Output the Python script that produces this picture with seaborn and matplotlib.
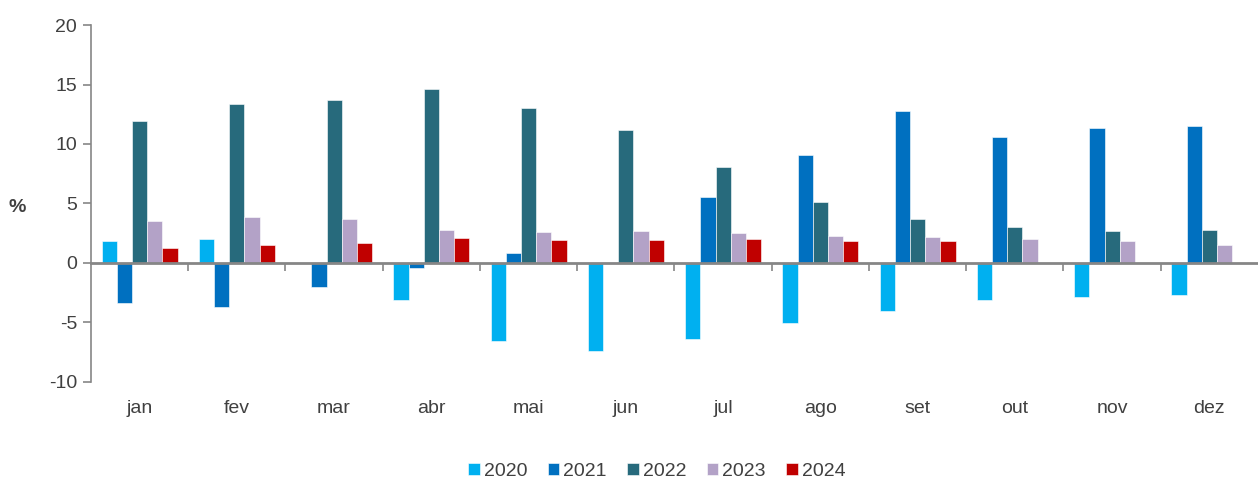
import numpy as np
import pandas as pd
import seaborn as sns
import matplotlib.pyplot as plt
import matplotlib.transforms as mtransforms

sns.set_theme(style="white")
plt.rcParams['font.family'] = ['Liberation Sans', 'DejaVu Sans']
plt.rcParams['axes.unicode_minus'] = False

MONTHS = ['jan', 'fev', 'mar', 'abr', 'mai', 'jun', 'jul', 'ago', 'set', 'out', 'nov', 'dez']
YEARS = ['2020', '2021', '2022', '2023', '2024']
COLORS = ['#00B0F0', '#0070C0', '#276A7C', '#B3A2C7', '#C00000']

# monthly values (%), NaN = no bar
V2020 = [1.8, 2.0, np.nan, -3.1, -6.6, -7.4, -6.4, -5.05, -4.05, -3.1, -2.85, -2.7]
V2021 = [-3.35, -3.7, -2.0, -0.4, 0.85, np.nan, 5.55, 9.1, 12.8, 10.55, 11.35, 11.5]
V2022 = [11.95, 13.35, 13.7, 14.6, 13.0, 11.2, 8.05, 5.1, 3.65, 3.05, 2.7, 2.8]
V2023 = [3.55, 3.85, 3.7, 2.75, 2.6, 2.7, 2.5, 2.3, 2.15, 2.0, 1.85, 1.5]
V2024 = [1.25, 1.5, 1.65, 2.05, 1.95, 1.95, 2.0, 1.8, 1.8, np.nan, np.nan, np.nan]

TEXT_COLOR = '#404040'
AXIS_COLOR = '#868686'


def build_frame() -> pd.DataFrame:
    series = [V2020, V2021, V2022, V2023, V2024]
    rows = []
    for year, values in zip(YEARS, series):
        for month, v in zip(MONTHS, values):
            rows.append({'month': month, 'year': year, 'value': v})
    return pd.DataFrame(rows).dropna()


def plot_chart(df: pd.DataFrame):
    fig = plt.figure(figsize=(12.58, 4.82), dpi=100)
    ax = fig.add_axes([0.0723, 0.208, 0.9277, 0.740])

    sns.barplot(data=df, x='month', y='value', hue='year', order=MONTHS,
                hue_order=YEARS, palette=COLORS, saturation=1, width=0.78, gap=0,
                edgecolor='white', linewidth=0.4, ax=ax)

    ax.set_ylim(-10, 20)
    ax.set_xlim(-0.5, len(MONTHS) - 0.5)
    ax.set_yticks(range(-10, 21, 5))
    ax.tick_params(axis='y', length=6, width=1.2, color=AXIS_COLOR,
                   labelsize=14, labelcolor=TEXT_COLOR, pad=4, left=True)

    # category axis sits on the zero line, ticks between groups
    ax.spines['bottom'].set_position(('data', 0))
    ax.spines['bottom'].set_color(AXIS_COLOR)
    ax.spines['bottom'].set_linewidth(2)
    ax.spines['left'].set_color(AXIS_COLOR)
    ax.spines['left'].set_linewidth(1.2)
    for s in ['top', 'right']:
        ax.spines[s].set_visible(False)
    ax.set_xticks(np.arange(0.5, len(MONTHS) - 0.5, 1))
    ax.set_xticklabels([])
    ax.tick_params(axis='x', length=6, width=1.2, color=AXIS_COLOR, bottom=True, direction='out')

    trans = mtransforms.blended_transform_factory(ax.transData, ax.transAxes)
    for i, m in enumerate(MONTHS):
        ax.text(i, -0.075, m, transform=trans, ha='center', va='center',
                fontsize=14, color=TEXT_COLOR)

    ax.set_xlabel('')
    ax.set_ylabel('%', rotation=0, fontsize=14, fontweight='bold', color=TEXT_COLOR)
    ax.yaxis.set_label_coords(-0.063, 0.465)

    handles, labels = ax.get_legend_handles_labels()
    ax.get_legend().remove()
    fig.legend(handles, labels, loc='center', bbox_to_anchor=(0.522, 0.022),
               ncol=5, frameon=False, fontsize=14, handlelength=0.6,
               handleheight=0.6, handletextpad=0.2, columnspacing=1.05,
               labelcolor=TEXT_COLOR)

    fig.savefig('out.png', dpi=100)


if __name__ == "__main__":
    df = build_frame()
    plot_chart(df)
